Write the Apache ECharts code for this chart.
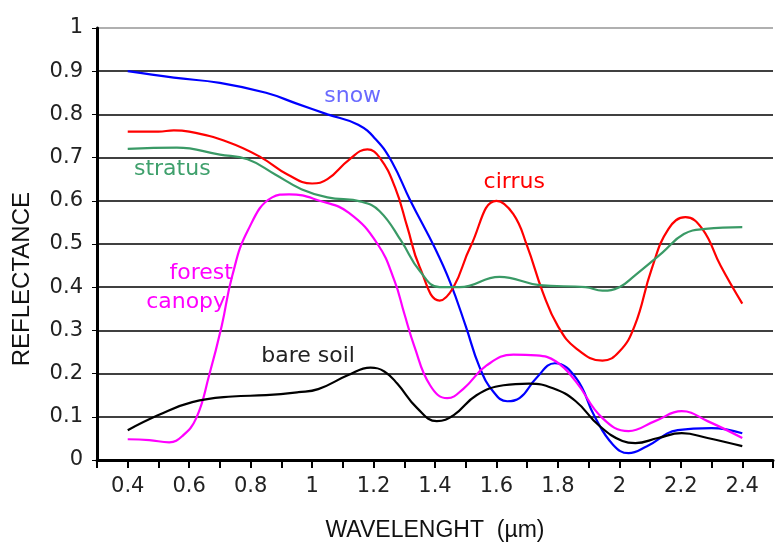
<!DOCTYPE html>
<html>
<head>
<meta charset="utf-8">
<script src="https://cdn.jsdelivr.net/npm/echarts@6/dist/echarts.min.js"></script>
<style>html,body{margin:0;padding:0;background:#fff}#c{width:776px;height:547px}</style>
</head>
<body>
<div id="c"></div>
<script>
// wavelength (µm), reflectance pairs
const snow = [[0.4,0.90],[0.55,0.885],[0.7,0.873],[0.85,0.85],[0.95,0.825],[1.05,0.80],[1.15,0.776],[1.21,0.74],[1.26,0.69],[1.32,0.60],[1.40,0.49],[1.45,0.41],[1.50,0.31],[1.545,0.215],[1.59,0.158],[1.635,0.136],[1.675,0.143],[1.73,0.19],[1.79,0.224],[1.86,0.189],[1.92,0.10],[1.98,0.035],[2.03,0.016],[2.09,0.032],[2.19,0.069],[2.30,0.074],[2.40,0.062]];
const cirrus = [[0.4,0.76],[0.5,0.76],[0.55,0.763],[0.6,0.76],[0.73,0.735],[0.835,0.70],[0.92,0.661],[1.0,0.64],[1.05,0.65],[1.12,0.695],[1.18,0.719],[1.22,0.70],[1.27,0.631],[1.31,0.539],[1.35,0.447],[1.415,0.369],[1.46,0.40],[1.515,0.493],[1.60,0.60],[1.655,0.569],[1.70,0.495],[1.75,0.39],[1.80,0.31],[1.86,0.258],[1.945,0.23],[2.0,0.251],[2.05,0.311],[2.105,0.442],[2.16,0.535],[2.215,0.562],[2.27,0.535],[2.33,0.449],[2.40,0.362]];
const stratus = [[0.4,0.72],[0.56,0.723],[0.7,0.707],[0.79,0.696],[0.88,0.661],[0.965,0.627],[1.05,0.608],[1.16,0.598],[1.22,0.576],[1.29,0.507],[1.35,0.438],[1.415,0.40],[1.48,0.40],[1.61,0.424],[1.74,0.405],[1.89,0.40],[1.945,0.392],[2.0,0.40],[2.05,0.427],[2.14,0.48],[2.21,0.523],[2.28,0.535],[2.40,0.539]];
const forestCanopy = [[0.4,0.048],[0.47,0.046],[0.535,0.041],[0.577,0.055],[0.623,0.097],[0.665,0.196],[0.706,0.311],[0.74,0.426],[0.79,0.53],[0.87,0.608],[0.925,0.615],[1.03,0.599],[1.12,0.572],[1.213,0.50],[1.268,0.415],[1.30,0.339],[1.332,0.265],[1.384,0.173],[1.44,0.143],[1.494,0.166],[1.568,0.219],[1.655,0.244],[1.73,0.242],[1.794,0.228],[1.858,0.182],[1.945,0.097],[2.03,0.067],[2.116,0.09],[2.203,0.113],[2.287,0.09],[2.40,0.051]];
const bareSoil = [[0.4,0.069],[0.5,0.104],[0.61,0.134],[0.74,0.147],[0.85,0.15],[0.955,0.157],[1.02,0.164],[1.116,0.196],[1.19,0.214],[1.235,0.205],[1.277,0.177],[1.342,0.12],[1.406,0.09],[1.461,0.104],[1.535,0.15],[1.623,0.173],[1.706,0.177],[1.784,0.166],[1.858,0.136],[1.932,0.081],[2.01,0.044],[2.052,0.039],[2.126,0.051],[2.203,0.062],[2.287,0.051],[2.40,0.032]];

// in-plot curve labels: [text, wavelength, reflectance]
const snowLabel = ['snow', 1.132, 0.843];
const stratusLabel = ['stratus', 0.545, 0.673];
const cirrusLabel = ['cirrus', 1.658, 0.643];
const forestLabel1 = ['forest', 0.639, 0.433];
const forestLabel2 = ['canopy', 0.590, 0.364];
const soilLabel = ['bare soil', 0.987, 0.240];

const xTickLabels = ['0.4','0.6','0.8','1','1.2','1.4','1.6','1.8','2','2.2','2.4'];
const yTickLabels = ['0','0.1','0.2','0.3','0.4','0.5','0.6','0.7','0.8','0.9','1'];
const xTitle = 'WAVELENGHT  (\u00b5m)';
const yTitle = 'REFLECTANCE';

const chart = echarts.init(document.getElementById('c'), null, {renderer: 'canvas'});

function mp(labels, color) {
  return {
    symbol: 'circle', symbolSize: 0, silent: true,
    data: labels.map(l => ({name: l[0], coord: [l[1], l[2]]})),
    label: {show: true, position: 'inside', formatter: '{b}', color: color,
            fontFamily: 'DejaVu Sans', fontSize: 22}
  };
}
function line(name, data, color, labels, labelColor) {
  return {
    name: name, type: 'line', data: data, smooth: 0.45, showSymbol: false, symbol: 'none',
    lineStyle: {color: color, width: 2.2}, itemStyle: {color: color},
    markPoint: mp(labels, labelColor), z: 3
  };
}

const splitColors = yTickLabels.map((t, i) => i === yTickLabels.length - 1 ? '#b0b0b0' : '#404040');

chart.setOption({
  animation: false,
  backgroundColor: '#ffffff',
  grid: {left: 97, top: 28, width: 682, height: 434, containLabel: false},
  graphic: [{
    type: 'text', left: 10, top: 192, rotation: Math.PI / 2, silent: true,
    style: {text: yTitle, fontFamily: 'Liberation Sans', fontSize: 24, fill: '#111'}
  }],
  xAxis: {
    type: 'value', min: 0.3, max: 2.5, interval: 0.1,
    name: xTitle, nameLocation: 'middle', nameGap: 59,
    nameTextStyle: {fontFamily: 'Liberation Sans', fontSize: 23, color: '#111'},
    axisLine: {show: true, onZero: false, lineStyle: {color: '#000', width: 3}},
    axisTick: {show: true, inside: false, length: 8, lineStyle: {color: '#000', width: 2}},
    axisLabel: {
      margin: 16, fontFamily: 'DejaVu Sans', fontSize: 21, color: '#222',
      showMinLabel: true, showMaxLabel: true,
      formatter: function (v) {
        const k = Math.round((v - 0.4) / 0.2 * 1000) / 1000;
        if (Number.isInteger(k) && k >= 0 && k < xTickLabels.length) return xTickLabels[k];
        return '';
      }
    },
    splitLine: {show: false}
  },
  yAxis: {
    type: 'value', min: 0, max: 1, interval: 0.1,
    axisLine: {show: true, lineStyle: {color: '#000', width: 3}},
    axisTick: {show: true, inside: false, length: 5, lineStyle: {color: '#000', width: 1}},
    axisLabel: {
      margin: 14, fontFamily: 'DejaVu Sans', fontSize: 21, color: '#222',
      formatter: function (v) { return yTickLabels[Math.round(v * 10)]; }
    },
    splitLine: {show: true, lineStyle: {color: splitColors, width: 2}}
  },
  series: [
    line('snow', snow, '#0000ff', [snowLabel], '#6a6aff'),
    line('cirrus', cirrus, '#ff0000', [cirrusLabel], '#ff0000'),
    line('stratus', stratus, '#3a9a66', [stratusLabel], '#3fa06c'),
    line('forest canopy', forestCanopy, '#ff00ff', [forestLabel1, forestLabel2], '#ff00ff'),
    line('bare soil', bareSoil, '#000000', [soilLabel], '#222222')
  ]
});
</script>
</body>
</html>
